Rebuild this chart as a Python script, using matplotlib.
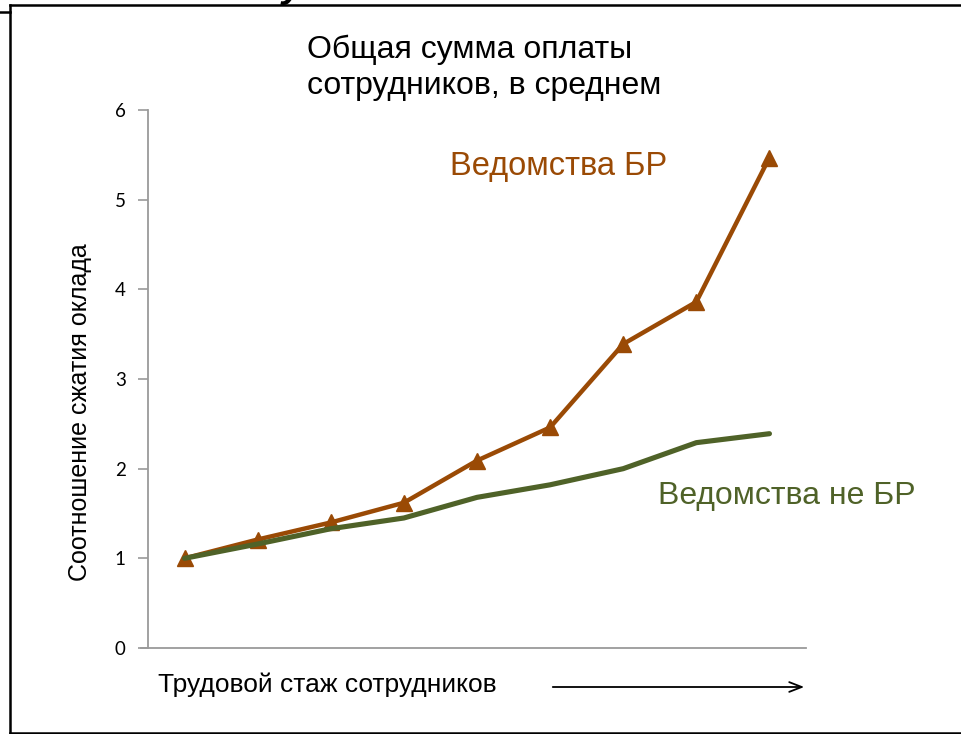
import matplotlib
matplotlib.use("Agg")
import matplotlib.pyplot as plt
from matplotlib.lines import Line2D
import numpy as np

# Series data: salary compression ratio by seniority step
steps = list(range(1, 10))
vedomstva_br = [1.0, 1.21, 1.40, 1.62, 2.09, 2.46, 3.39, 3.86, 5.47]
vedomstva_ne_br = [1.0, 1.16, 1.33, 1.45, 1.68, 1.82, 2.0, 2.29, 2.39]
y_ticks = [0, 1, 2, 3, 4, 5, 6]

title = "Общая сумма оплаты\nсотрудников, в среднем"
y_label = "Соотношение сжатия оклада"
x_label = "Трудовой стаж сотрудников"
label_br = "Ведомства БР"
label_ne_br = "Ведомства не БР"

ORANGE = "#9A4A05"
GREEN = "#4F6228"
AXIS_GREY = "#9A9A9A"

plt.rcParams["font.family"] = ["Liberation Sans", "DejaVu Sans"]

W, H = 961, 734
fig = plt.figure(figsize=(W / 100, H / 100), dpi=100)
fig.patch.set_facecolor("white")


def fx(px):
    return px / W


def fy(py):
    return 1 - py / H


ax = fig.add_axes([fx(148), fy(648), fx(806) - fx(148), fy(110) - fy(648)])

x = np.arange(len(steps)) + 0.5
ax.plot(x, vedomstva_br, color=ORANGE, lw=3.2, marker="^", ms=11.5,
        markeredgecolor=ORANGE, markerfacecolor=ORANGE, zorder=3,
        solid_joinstyle="round")
ax.plot(x, vedomstva_ne_br, color=GREEN, lw=3.7, zorder=4,
        solid_capstyle="round", solid_joinstyle="round")

ax.set_xlim(0, len(steps))
ax.set_ylim(0, 6)
ax.set_yticks(y_ticks)
ax.set_yticklabels([str(t) for t in y_ticks], fontsize=13.5,
                   family=["Lato", "DejaVu Sans"])
ax.set_xticks([])
ax.tick_params(axis="y", length=7, width=1.2, color=AXIS_GREY, pad=9)

for side in ("top", "right"):
    ax.spines[side].set_visible(False)
for side in ("left", "bottom"):
    ax.spines[side].set_color(AXIS_GREY)
    ax.spines[side].set_linewidth(1.3)
ax.spines["bottom"].set_bounds(-0.09, len(steps))

# Title and annotations
fig.text(fx(484), fy(68), title, ha="center", va="center", fontsize=23,
         linespacing=1.24, multialignment="left")
fig.text(fx(80), fy(412), y_label, rotation=90, ha="center", va="center",
         fontsize=18)
fig.text(fx(158), fy(685), x_label, ha="left", va="center", fontsize=19)
fig.text(fx(450), fy(167), label_br, ha="left", va="center", fontsize=23.5,
         color=ORANGE)
fig.text(fx(658), fy(496), label_ne_br, ha="left", va="center", fontsize=23,
         color=GREEN)

# Direction arrow for seniority
ax.annotate("", xy=(fx(807), fy(687)), xytext=(fx(550), fy(687)),
            xycoords="figure fraction", textcoords="figure fraction",
            arrowprops=dict(arrowstyle="->,head_length=0.9,head_width=0.35",
                            color="black", lw=1.3))

# Slide frame lines
frame = [
    ((fx(10), fx(961)), (fy(5), fy(5))),
    ((fx(10), fx(10)), (fy(5), fy(733))),
    ((fx(10), fx(961)), (fy(733), fy(733))),
    ((fx(0), fx(10)), (fy(12), fy(12))),
]
for xs, ys in frame:
    fig.add_artist(Line2D(xs, ys, transform=fig.transFigure, color="black",
                          lw=1.8))

fig.text(fx(282), fy(-3), "у", fontsize=28, fontweight="bold",
         ha="left", va="baseline", style="italic")

fig.savefig("out.png", dpi=100, facecolor="white")
